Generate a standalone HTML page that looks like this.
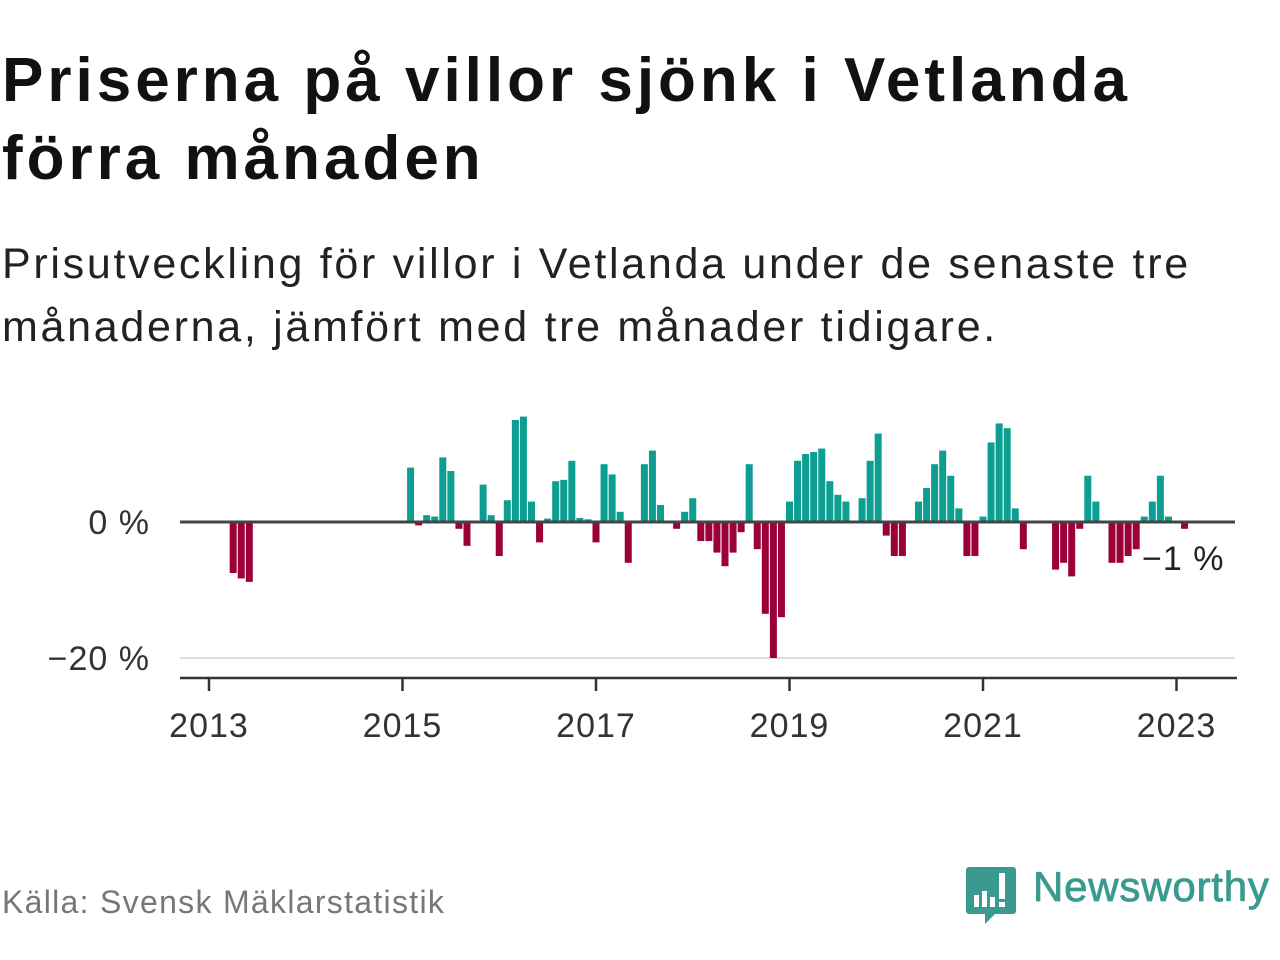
<!DOCTYPE html>
<html><head><meta charset="utf-8">
<style>
body{margin:0;width:1280px;height:960px;background:#fff;font-family:"Liberation Sans",sans-serif;overflow:hidden;position:relative}
.t{position:absolute;left:2px;margin:0;white-space:nowrap}
</style></head><body>
<h1 class="t" style="top:42px;font-size:62px;line-height:78px;font-weight:bold;color:#111;letter-spacing:4px">Priserna på villor sjönk i Vetlanda<br>förra månaden</h1>
<p class="t" style="top:233px;font-size:43px;line-height:63px;color:#222;letter-spacing:2.7px">Prisutveckling för villor i Vetlanda under de senaste tre<br>månaderna, jämfört med tre månader tidigare.</p>
<svg id="chart" width="1280" height="960" style="position:absolute;left:0;top:0" xmlns="http://www.w3.org/2000/svg"></svg>
<p class="t" style="top:884px;font-size:32px;color:#777;letter-spacing:1.3px">Källa: Svensk Mäklarstatistik</p>
<div style="position:absolute;left:965px;top:865px;height:60px;">
<svg width="52" height="60" style="position:absolute;left:0;top:0"><path d="M4 2h44a3 3 0 0 1 3 3v41a3 3 0 0 1-3 3H30l-10 10v-10H4a3 3 0 0 1-3-3V5a3 3 0 0 1 3-3z" fill="#3a9a8f"/><rect x="9" y="30" width="5" height="12" fill="#fff"/><rect x="17" y="26" width="5" height="16" fill="#fff"/><rect x="25" y="32" width="5" height="10" fill="#fff"/><rect x="34" y="8" width="6" height="26" fill="#fff"/><rect x="34" y="37" width="6" height="5" fill="#fff"/></svg>
<span style="position:absolute;left:68px;top:-2px;font-size:42px;color:#3a9a8f;white-space:nowrap;letter-spacing:0.8px;-webkit-text-stroke:0.8px #3a9a8f">Newsworthy</span>
</div>
<script>
const startYear = 2013;
const values = [null,null,null,-7.5,-8.3,-8.8,null,null,null,null,null,null,
null,null,null,null,null,null,null,null,null,null,null,null,
null,8,-0.5,1,0.8,9.5,7.5,-1,-3.5,0,5.5,1,
-5,3.2,15,15.5,3,-3,0.5,6,6.2,9,0.6,0.4,
-3,8.5,7,1.5,-6,0,8.5,10.5,2.5,0,-1,1.5,
3.5,-2.8,-2.8,-4.5,-6.5,-4.5,-1.5,8.5,-4,-13.5,-20,-14,
3,9,10,10.3,10.8,6,4,3,0,3.5,9,13,
-2,-5,-5,0,3,5,8.5,10.5,6.8,2,-5,-5,
0.8,11.7,14.5,13.8,2,-4,0,0,0,-7,-6,-8,
-1,6.8,3,0,-6,-6,-5,-4,0.8,3,6.8,0.8,
0,-1];
const yTicks = [0,-20];
const yTickLabels = ["0 %","\u221220 %"];
const xTickYears = [2013,2015,2017,2019,2021,2023];
const lastLabel = "\u22121 %";

const svg = document.getElementById('chart');
const NS = 'http://www.w3.org/2000/svg';
const x0 = 209, pxPerMonth = 96.75/12;
const xScale = m => x0 + m*pxPerMonth;
const xYear = y => xScale((y-startYear)*12);
const yScale = v => 522 - v*6.8;
function mk(tag, attrs){const e=document.createElementNS(NS,tag);for(const k in attrs)e.setAttribute(k,attrs[k]);svg.appendChild(e);return e;}

yTicks.forEach((t,i)=>{
  if(t!==0){const g=mk('line',{x1:180,x2:1235,y1:yScale(t),y2:yScale(t),stroke:'#ddd','stroke-width':2});
  
  }
  const l=mk('text',{x:150,y:yScale(t)+12,'text-anchor':'end','font-size':34,fill:'#333','font-family':'Liberation Sans, sans-serif','letter-spacing':1});
  l.textContent=yTickLabels[i];
  
  
});
values.forEach((v,m)=>{
  if(v===null||v===0)return;
  const y=yScale(v), z=yScale(0);
  const r=mk('rect',{x:xScale(m)-3.5,width:7,y:Math.min(y,z),height:Math.abs(y-z),fill:v>0?'#0c9e91':'#9b0038'});
  
  
});
const zl=mk('line',{x1:180,x2:1235,y1:yScale(0),y2:yScale(0),stroke:'#444','stroke-width':3});


const ax=mk('line',{x1:180,x2:1237,y1:678,y2:678,stroke:'#333','stroke-width':2.5});


xTickYears.forEach(yr=>{
  const x=xYear(yr);
  const tk=mk('line',{x1:x,x2:x,y1:678,y2:691,stroke:'#333','stroke-width':2.5});
  
  
  const t=mk('text',{x:x,y:737,'text-anchor':'middle','font-size':34,fill:'#333','font-family':'Liberation Sans, sans-serif','letter-spacing':1});
  t.textContent=yr;
  
  
});
const ll=mk('text',{x:1142,y:570,'font-size':34,fill:'#222','font-family':'Liberation Sans, sans-serif','letter-spacing':1});
ll.textContent=lastLabel;


</script>
</body></html>
